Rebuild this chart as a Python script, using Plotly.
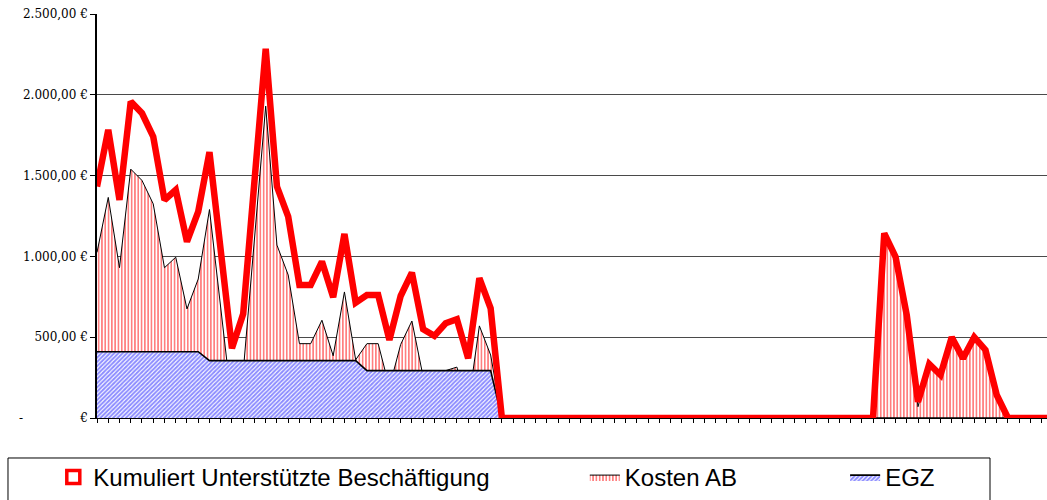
import plotly.graph_objects as go

# ---- data ----
perioden = list(range(86))  # category index (original labels unreadable)

kumuliert = [1432, 1783, 1349, 1958, 1886, 1741, 1349, 1411, 1091, 1277,
             1645, 1030, 431, 645, 1460, 2285, 1432, 1246, 823, 823,
             968, 747, 1139, 714, 761, 761, 483, 755, 900, 549,
             508, 586, 611, 369, 865, 679, 0, 0, 0, 0,
             0, 0, 0, 0, 0, 0, 0, 0, 0, 0,
             0, 0, 0, 0, 0, 0, 0, 0, 0, 0,
             0, 0, 0, 0, 0, 0, 0, 0, 0, 0,
             1143, 998, 637, 100, 334, 266, 500, 369, 500, 421,
             142, 0, 0, 0, 0, 0]

kosten_ab = [1025, 1365, 930, 1540, 1470, 1325, 930, 995, 675, 860,
             1290, 675, 76, 285, 1105, 1930, 1070, 885, 460, 460,
             605, 385, 780, 360, 460, 460, 190, 455, 600, 255,
             215, 293, 315, 76, 570, 390, 0, 0, 0, 0,
             0, 0, 0, 0, 0, 0, 0, 0, 0, 0,
             0, 0, 0, 0, 0, 0, 0, 0, 0, 0,
             0, 0, 0, 0, 0, 0, 0, 0, 0, 0,
             1140, 995, 635, 70, 330, 262, 500, 365, 500, 420,
             140, 0, 0, 0, 0, 0]

egz = [410] * 10 + [355] * 14 + [293] * 12 + [0] * 50

y_tickvals = [0, 500, 1000, 1500, 2000, 2500]
y_ticktext = ["-" + "\u00a0" * 15 + "€", "500,00 €", "1.000,00 €",
              "1.500,00 €", "2.000,00 €", "2.500,00 €"]

serien = ["Kumuliert Unterstützte Beschäftigung", "Kosten AB", "EGZ"]

# ---- figure ----
fig = go.Figure()

fig.add_trace(go.Scatter(
    x=perioden, y=kosten_ab, name=serien[1], mode="lines",
    line=dict(color="black", width=1),
    fill="tozeroy", fillcolor="white",
    fillpattern=dict(shape="|", fgcolor="#ff0000", bgcolor="white",
                     size=3.3, solidity=0.5),
    legend="legend2",
))

fig.add_trace(go.Scatter(
    x=perioden, y=egz, name=serien[2], mode="lines",
    line=dict(color="black", width=1.6),
    fill="tozeroy", fillcolor="white",
    fillpattern=dict(shape="/", fgcolor="#1a1aff", bgcolor="white",
                     size=3, solidity=0.65),
    legend="legend3",
))

fig.add_trace(go.Scatter(
    x=perioden, y=kumuliert, name=serien[0], mode="lines",
    line=dict(color="#ff0000", width=6.5),
    showlegend=False,
))

# legend symbol for the red line (hollow red square as in the reference)
fig.add_trace(go.Scatter(
    x=[None], y=[None], name=serien[0], mode="markers",
    marker=dict(symbol="square-open", size=13, color="#ff0000",
                line=dict(width=3.5, color="#ff0000")),
    legend="legend",
))

legend_font = dict(family="Liberation Sans, Arial, sans-serif", size=24, color="black")
common_legend = dict(orientation="h", yanchor="middle", y=-0.1485,
                     xanchor="left", bgcolor="rgba(0,0,0,0)",
                     borderwidth=0, font=legend_font)

fig.update_layout(
    width=1047, height=500,
    margin=dict(l=97, r=0, t=14, b=82),
    paper_bgcolor="white", plot_bgcolor="white",
    legend=dict(x=-0.046, **common_legend),
    legend2=dict(x=0.5135, **common_legend),
    legend3=dict(x=0.7875, **common_legend),
    xaxis=dict(
        range=[0, 84.47], tickmode="linear", tick0=0, dtick=1,
        showgrid=False, zeroline=False, showline=True,
        linecolor="black", linewidth=1,
        ticks="outside", ticklen=4, tickcolor="black",
        showticklabels=False,
    ),
    yaxis=dict(
        range=[0, 2500], tickvals=y_tickvals, ticktext=y_ticktext,
        showgrid=True, gridcolor="#4a4a4a", gridwidth=1,
        zeroline=False, showline=True, linecolor="black", linewidth=1.5,
        ticks="outside", ticklen=5, tickcolor="black",
        tickfont=dict(family="DejaVu Serif, Liberation Serif, serif",
                      size=12, color="black"),
    ),
    shapes=[dict(type="rect", xref="paper", yref="paper",
                 x0=-0.0937, x1=0.94, y0=-0.099, y1=-0.25,
                 line=dict(color="black", width=1), fillcolor="rgba(0,0,0,0)")],
)

fig.write_html("out.html",
               config={"displayModeBar": False},
               post_script="document.body.style.margin='0';document.body.style.overflow='hidden';")
